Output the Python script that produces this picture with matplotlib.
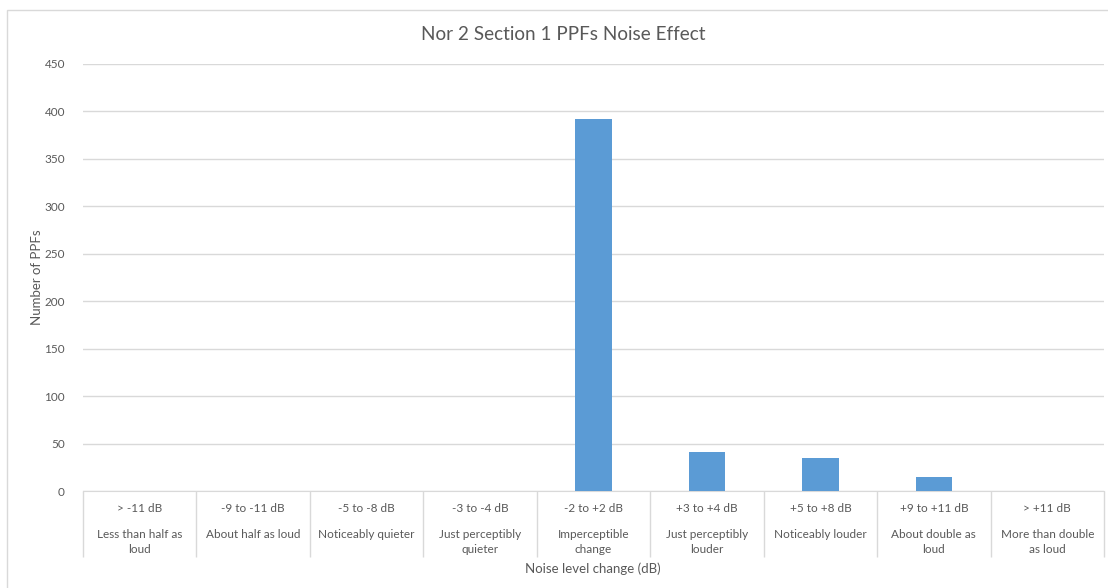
import matplotlib.pyplot as plt
from matplotlib.patches import Rectangle

# Noise level bands and PPF counts
ranges = ['> -11 dB', '-9 to -11 dB', '-5 to -8 dB', '-3 to -4 dB', '-2 to +2 dB',
          '+3 to +4 dB', '+5 to +8 dB', '+9 to +11 dB', '> +11 dB']
descriptions = ['Less than half as\nloud', 'About half as loud', 'Noticeably quieter',
                'Just perceptibly\nquieter', 'Imperceptible\nchange', 'Just perceptibly\nlouder',
                'Noticeably louder', 'About double as\nloud', 'More than double\nas loud']
counts = [0, 0, 0, 0, 392, 41, 35, 15, 0]

plt.rcParams['font.family'] = ['Lato', 'DejaVu Sans']
text_col = '#595959'
grid_col = '#d9d9d9'
bar_col = '#5b9bd5'

W, H = 1108, 588
fig = plt.figure(figsize=(W / 100, H / 100), dpi=100)
ax = fig.add_axes([83 / W, (H - 491) / H, (1104 - 83) / W, (491 - 64) / H])

x = list(range(len(counts)))
ax.bar(x, counts, width=0.32, color=bar_col, zorder=3)

ax.set_xlim(-0.5, len(counts) - 0.5)
ax.set_ylim(0, 450)
ax.set_yticks(range(0, 451, 50))
ax.tick_params(axis='y', length=0, labelsize=8.5, labelcolor=text_col, pad=13)
ax.set_xticks([])
ax.grid(axis='y', color=grid_col, linewidth=1, zorder=0)
for side in ['top', 'right', 'left']:
    ax.spines[side].set_visible(False)
ax.spines['bottom'].set_color(grid_col)

# two-level category labels with separators
tr = ax.get_xaxis_transform()
ax.vlines([i - 0.5 for i in range(len(counts) + 1)], -0.155, 0, transform=tr,
          color=grid_col, linewidth=1, clip_on=False)
for i in x:
    ax.text(i, -0.042, ranges[i], transform=tr, ha='center', va='center',
            fontsize=8.5, color=text_col)
    ax.text(i, -0.09, descriptions[i], transform=tr, ha='center', va='top',
            fontsize=8.5, color=text_col, linespacing=1.4)

fig.text(593 / W, 1 - 569 / H, 'Noise level change (dB)', ha='center', va='center',
         fontsize=9.5, color=text_col)
fig.text(37 / W, 1 - 277 / H, 'Number of PPFs', ha='center', va='center',
         rotation=90, fontsize=9.5, color=text_col)
fig.text(563 / W, 1 - 34 / H, 'Nor 2 Section 1 PPFs Noise Effect', ha='center',
         va='center', fontsize=13.6, color=text_col)

fig.patches.append(Rectangle((7 / W, -0.1), 1.2, 1 - 10 / H + 0.1, transform=fig.transFigure,
                             fill=False, edgecolor=grid_col, linewidth=1))

fig.savefig('out.png', dpi=100)
